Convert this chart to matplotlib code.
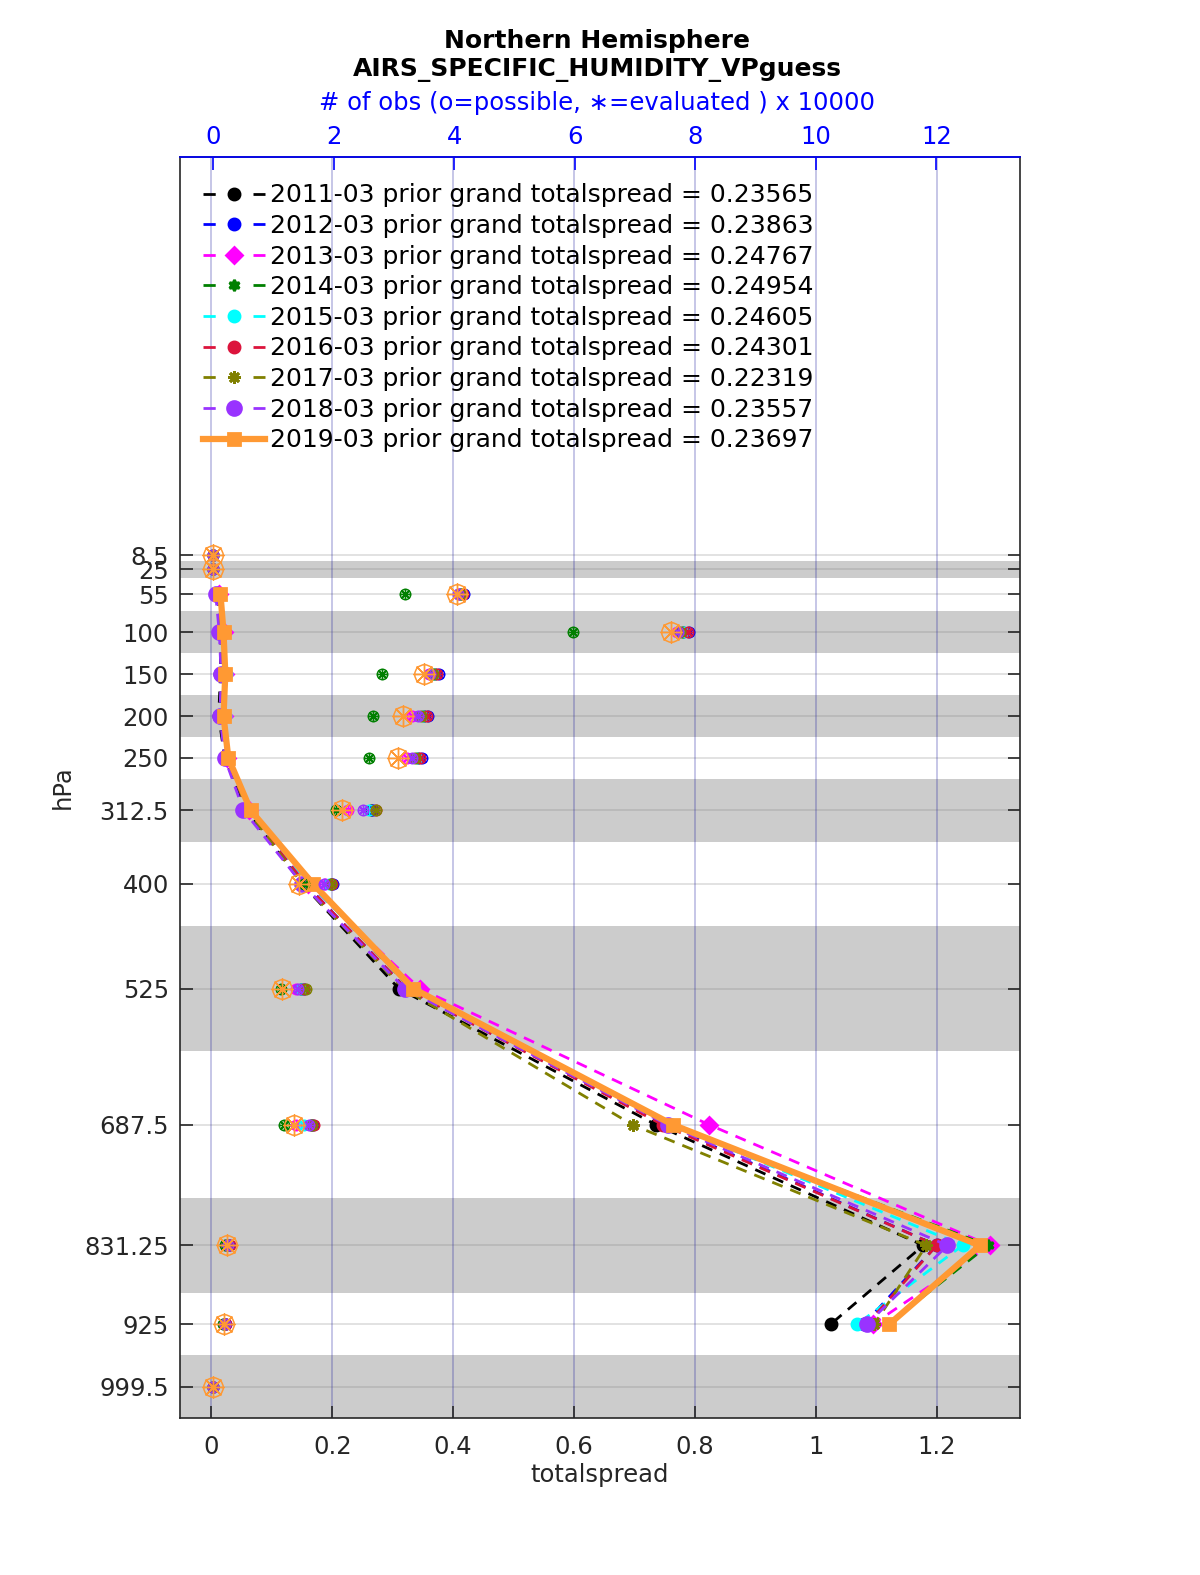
import matplotlib
matplotlib.use('Agg')
import matplotlib.pyplot as plt
from matplotlib.lines import Line2D
import numpy as np

plt.rcParams['font.family'] = ['DejaVu Sans']

# pressure levels (hPa) and layer edges used for the shading
levels = [8.5, 25, 55, 100, 150, 200, 250, 312.5, 400, 525, 687.5, 831.25, 925, 999.5]
level_labels = ['8.5', '25', '55', '100', '150', '200', '250', '312.5', '400',
                '525', '687.5', '831.25', '925', '999.5']
edges = [2, 15, 35, 75, 125, 175, 225, 275, 350, 450, 600, 775, 887.5, 962, 1037]

years = ['2011-03', '2012-03', '2013-03', '2014-03', '2015-03',
         '2016-03', '2017-03', '2018-03', '2019-03']
grand_spread = ['0.23565', '0.23863', '0.24767', '0.24954', '0.24605',
                '0.24301', '0.22319', '0.23557', '0.23697']
colors = ['black', '#0000ff', '#ff00ff', '#008000', '#00ffff',
          '#dc143c', '#808000', '#9933ff', '#ff9933']
markers = ['o', 'o', 'D', (6, 1, 0), 'o', 'o', (8, 2, 0), 'o', 's']

# totalspread per level (nan where no value)
nan = np.nan
spread = [
    [nan, nan, 0.010, 0.015, 0.015, 0.012, 0.022, 0.058, 0.150, 0.310, 0.736, 1.178, 1.025, nan],
    [nan, nan, 0.012, 0.017, 0.018, 0.016, 0.025, 0.060, 0.155, 0.322, 0.752, 1.200, 1.080, nan],
    [nan, nan, 0.012, 0.020, 0.022, 0.020, 0.026, 0.062, 0.160, 0.345, 0.824, 1.288, 1.095, nan],
    [nan, nan, 0.014, 0.022, 0.024, 0.022, 0.028, 0.064, 0.165, 0.330, 0.760, 1.285, 1.120, nan],
    [nan, nan, 0.013, 0.021, 0.024, 0.022, 0.028, 0.062, 0.162, 0.335, 0.762, 1.243, 1.069, nan],
    [nan, nan, 0.012, 0.018, 0.020, 0.018, 0.026, 0.060, 0.155, 0.322, 0.747, 1.200, 1.085, nan],
    [nan, nan, 0.012, 0.017, 0.020, 0.018, 0.026, 0.060, 0.150, 0.318, 0.697, 1.183, 1.097, nan],
    [nan, nan, 0.007, 0.013, 0.016, 0.014, 0.022, 0.053, 0.150, 0.320, 0.755, 1.218, 1.085, nan],
    [nan, nan, 0.015, 0.020, 0.023, 0.020, 0.028, 0.065, 0.168, 0.334, 0.764, 1.272, 1.122, nan],
]

# number of obs (x 10000), possible == evaluated here
obs = [
    [0.0, 0.0, 4.12, 7.80, 3.68, 3.50, 3.40, 2.62, 1.95, 1.45, 1.62, 0.25, 0.20, 0.0],
    [0.0, 0.0, 4.16, 7.90, 3.74, 3.57, 3.46, 2.65, 1.99, 1.50, 1.66, 0.27, 0.22, 0.0],
    [0.0, 0.0, 4.08, 7.70, 3.58, 3.30, 3.22, 2.24, 1.85, 1.38, 1.37, 0.22, 0.18, 0.0],
    [0.0, 0.0, 3.19, 5.98, 2.80, 2.65, 2.59, 2.04, 1.50, 1.12, 1.17, 0.20, 0.17, 0.0],
    [0.0, 0.0, 4.12, 7.82, 3.66, 3.48, 3.38, 2.59, 1.92, 1.45, 1.50, 0.25, 0.20, 0.0],
    [0.0, 0.0, 4.15, 7.88, 3.72, 3.55, 3.44, 2.70, 1.97, 1.50, 1.67, 0.28, 0.22, 0.0],
    [0.0, 0.0, 4.10, 7.75, 3.65, 3.45, 3.35, 2.70, 1.96, 1.54, 1.64, 0.25, 0.20, 0.0],
    [0.0, 0.0, 4.07, 7.72, 3.60, 3.40, 3.30, 2.49, 1.84, 1.40, 1.59, 0.24, 0.19, 0.0],
    [0.0, 0.0, 4.04, 7.60, 3.50, 3.15, 3.07, 2.14, 1.42, 1.15, 1.34, 0.23, 0.18, 0.0],
]

spread_ticks = [0, 0.2, 0.4, 0.6, 0.8, 1, 1.2]
obs_ticks = [0, 2, 4, 6, 8, 10, 12]

FS = 17.5

fig = plt.figure(figsize=(12, 15.75), dpi=100)
ax = fig.add_axes([0.15, 0.0997, 0.70, 0.8006])

# alternating gray layers
for i in range(1, len(edges) - 1, 2):
    ax.axhspan(edges[i], edges[i + 1], color='#cccccc', zorder=0, lw=0)

for lev in levels:
    ax.axhline(lev, color='#777777', alpha=0.25, lw=1.2, zorder=0.5)
for t in spread_ticks:
    ax.axvline(t, color='#2020a0', alpha=0.3, lw=1.2, zorder=0.5)

handles = []
for i in range(len(years)):
    last = i == len(years) - 1
    ms = 10 if i == 7 else 8
    if markers[i] == (8, 2, 0):
        ms = 9
    ax.plot(spread[i], levels, color=colors[i],
            lw=4.5 if last else 2,
            ls='-' if last else (0, (4, 3)),
            marker=markers[i], ms=ms,
            mfc=colors[i], mec=colors[i], mew=2,
            zorder=3 + i)
    # legend proxy: short dash, marker, short dash
    handles.append(Line2D([], [], color=colors[i], lw=4.5 if last else 2,
                          ls='-' if last else (0, (4.4, 13.6)),
                          marker=markers[i], ms=ms, mfc=colors[i], mec=colors[i], mew=2,
                          label=f'{years[i]} prior grand totalspread = {grand_spread[i]}'))

ax.set_ylim(1037, -466.6)
ax.set_xlim(-0.052, 1.338)
ax.set_yticks(levels)
ax.set_yticklabels(level_labels)
ax.set_xticks(spread_ticks)
ax.set_xticklabels(['0', '0.2', '0.4', '0.6', '0.8', '1', '1.2'])
ax.tick_params(axis='both', direction='in', length=9, labelsize=FS,
               labelcolor='#262626', color='#262626', width=1.2, right=True)
ax.tick_params(axis='x', pad=12)
ax.tick_params(axis='y', pad=8)
ax.set_xlabel('totalspread', fontsize=FS, color='#262626')
ax.xaxis.set_label_coords(0.5, -0.036)
ax.set_ylabel('hPa', fontsize=FS, color='#262626')
ax.yaxis.set_label_coords(-0.125, 0.5)
for s in ax.spines.values():
    s.set_color('#262626')
    s.set_linewidth(1.2)

ax2 = ax.twiny()
ax2.set_xlim(-0.55, 13.39)
for i in range(len(years)):
    last = i == len(years) - 1
    ax2.plot(obs[i], levels, ls='none', marker='o', ms=14 if last else 7.5,
             mfc='none', mec=colors[i], mew=1.1, zorder=3 + i)
    ax2.plot(obs[i], levels, ls='none', marker=(8, 2, 0), ms=16 if last else 8,
             mec=colors[i], mew=1.0, zorder=3 + i)
ax2.set_xticks(obs_ticks)
ax2.tick_params(axis='x', direction='in', length=9, labelsize=FS,
                labelcolor='blue', color='blue', width=1.2, pad=6)
ax2.spines['top'].set_color('blue')
ax2.spines['top'].set_linewidth(1.2)
for k in ['left', 'right', 'bottom']:
    ax2.spines[k].set_visible(False)

leg = ax2.legend(handles=handles, loc='upper left', bbox_to_anchor=(0.0, 0.997),
                 frameon=False, fontsize=18, handlelength=2.5, markerscale=1.0,
                 handletextpad=0.2, labelspacing=0.265, borderaxespad=0.5)
for t in leg.get_texts():
    t.set_color('black')

fig.text(0.4979, 1 - 41 / 1575, 'Northern Hemisphere', ha='center', va='center',
         fontsize=18, fontweight='bold')
fig.text(0.4979, 1 - 70 / 1575, 'AIRS_SPECIFIC_HUMIDITY_VPguess', ha='center', va='center',
         fontsize=18, fontweight='bold')
fig.text(0.4979, 1 - 103 / 1575, '# of obs (o=possible, \u2217=evaluated ) x 10000',
         ha='center', va='center', color='blue', fontsize=FS)

fig.savefig('out.png', dpi=100)
